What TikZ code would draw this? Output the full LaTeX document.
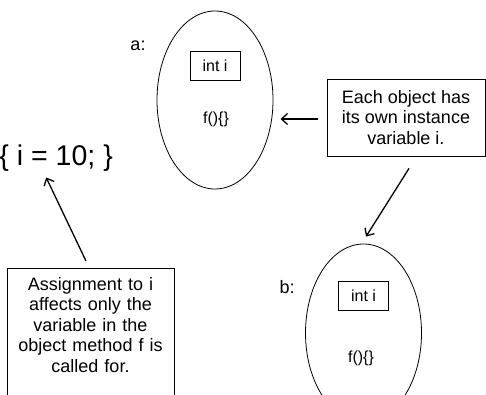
\documentclass[tikz,border=0pt]{standalone}
\usepackage{fontspec}
\setmainfont{Liberation Sans}
\usetikzlibrary{shapes.geometric,arrows.meta}
\begin{document}
\begin{tikzpicture}[x=1pt,y=-1pt,
  obj/.style={draw,ellipse,line width=0.8pt,minimum width=116pt,minimum height=178pt,inner sep=0pt},
  var/.style={draw,line width=0.8pt,minimum width=50pt,minimum height=29pt,inner sep=0pt,font=\fontsize{16}{18}\selectfont},
  meth/.style={inner sep=0pt,font=\fontsize{16}{18}\selectfont},
  lbl/.style={inner sep=0pt,font=\fontsize{18}{20}\selectfont},
  note/.style={align=center,inner sep=0pt,font=\fontsize{18}{20.5}\selectfont},
  frame/.style={draw,line width=0.8pt},
  arr/.style={-{Straight Barb[length=6pt,width=11pt]},line width=1.3pt}]
\useasboundingbox (0,0) rectangle (486,394);
\clip (0,0) rectangle (486,394);
% object a
\node[obj] (a) at (215,100) {};
\node[var] (ai) at (215,65.5) {int i};
\node[meth] (af) at (216,119) {f()\{\}};
\node[lbl] (al) at (138,46) {a:};
% object b
\node[obj] (b) at (363.5,333) {};
\node[var] (bi) at (363.5,295.5) {int i};
\node[meth] (bf) at (361,358) {f()\{\}};
\node[lbl] (bl) at (287,287) {b:};
% statement
\node[inner sep=0pt,anchor=east,font=\fontsize{28.5}{30}\selectfont] (st) at (113,158) {\{ i = 10; \}};
% note right
\node[note,draw,line width=0.8pt,minimum width=158pt,minimum height=77pt] (rb) at (406,117.5) {Each object has\\its own instance\\variable i.};
% note bottom left
\node[note,text width=167pt] (lb) at (90.5,325) {Assignment to i\\affects only the\\variable in the\\object method f is\\called for.};
\coordinate (lbtl) at (7,268);
\coordinate (lbtr) at (174,268);
\draw[frame] (lbtl |- 0,420) -- (lbtl) -- (lbtr) -- (lbtr |- 0,420);
% connectors
\draw[arr] ([xshift=-9pt,yshift=-1.5pt]rb.west) -- ++(-37pt,0);
\draw[arr] ([shift={(3pt,-12pt)}]rb.south) -- ([shift={(2.5pt,7pt)}]b.north);
\draw[arr] ([shift={(-4.5pt,7pt)}]lbtl -| lb.north) -- ([shift={(-10pt,-6pt)}]st.south);
\end{tikzpicture}
\end{document}
